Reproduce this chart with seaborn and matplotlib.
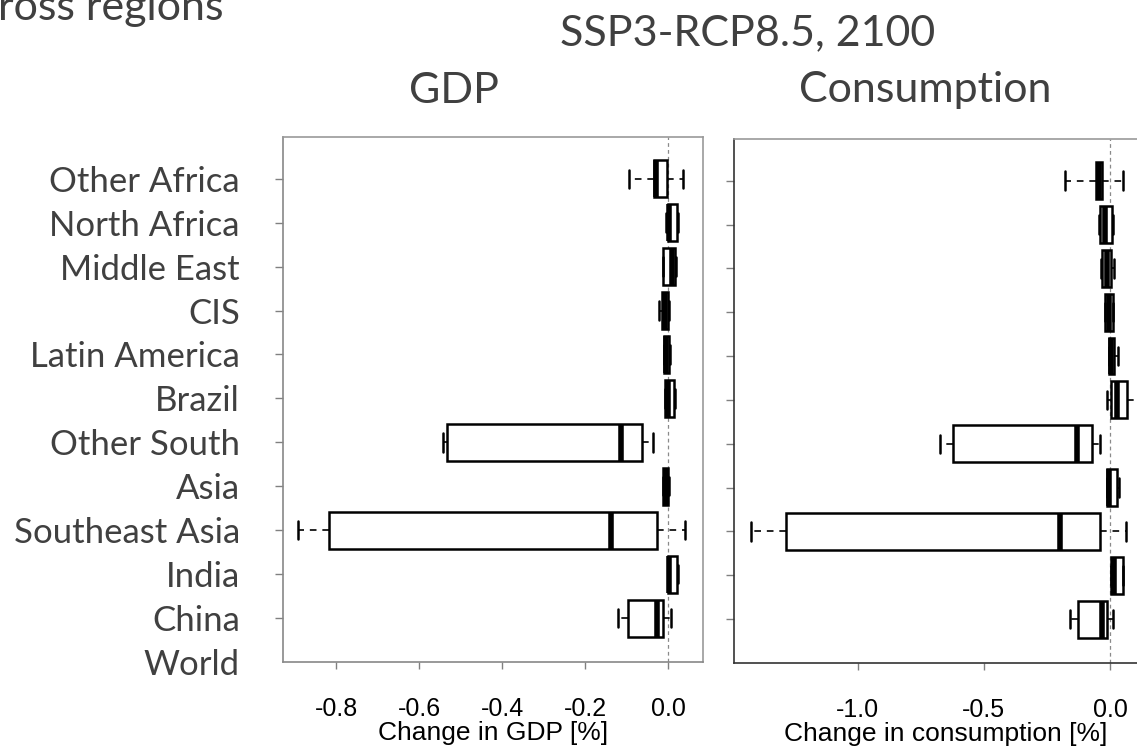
import pandas as pd
import matplotlib.pyplot as plt
import seaborn as sns

regions = ["Other Africa", "North Africa", "Middle East", "CIS", "Latin America",
           "Brazil", "Other South", "Asia", "Southeast Asia", "India", "China", "World"]

# five-number summaries (World has no box)
gdp_lo  = [-0.094, -0.004, -0.013, -0.022, -0.010, -0.008, -0.542, -0.013, -0.892, 0.000, -0.121]
gdp_q1  = [-0.034,  0.000, -0.012, -0.014, -0.009, -0.007, -0.532, -0.012, -0.817, 0.000, -0.097]
gdp_med = [-0.030,  0.003,  0.010, -0.008, -0.004,  0.000, -0.113, -0.005, -0.137, 0.002, -0.026]
gdp_q3  = [-0.002,  0.022,  0.017,  0.000,  0.003,  0.015, -0.063,  0.000, -0.026, 0.022, -0.012]
gdp_hi  = [ 0.036,  0.024,  0.018,  0.001,  0.004,  0.016, -0.036,  0.001,  0.041, 0.023,  0.007]

cons_lo  = [-0.178, -0.042, -0.034, -0.022, -0.005, -0.012, -0.672, -0.013, -1.423, 0.003, -0.158]
cons_q1  = [-0.055, -0.040, -0.032, -0.020, -0.004,  0.004, -0.621, -0.012, -1.285, 0.004, -0.126]
cons_med = [-0.045, -0.020, -0.012, -0.004,  0.005,  0.028, -0.130, -0.004, -0.198, 0.015, -0.032]
cons_q3  = [-0.032,  0.008,  0.004,  0.012,  0.016,  0.067, -0.071,  0.028, -0.040, 0.051, -0.012]
cons_hi  = [ 0.051,  0.010,  0.016,  0.013,  0.032,  0.110, -0.040,  0.035,  0.063, 0.052,  0.012]

gdp_ticks = [-0.8, -0.6, -0.4, -0.2, 0.0]
cons_ticks = [-1.0, -0.5, 0.0]

W, H = 1137, 747
TXT = "#404040"
SLIDE_FONT = ["Lato", "DejaVu Sans"]
AXIS_FONT = ["Liberation Sans", "DejaVu Sans"]


def to_long(lo, q1, med, q3, hi):
    # 5 points per region -> quartiles/whiskers land exactly on the read values
    rows = []
    for i, r in enumerate(regions[:len(lo)]):
        for v in (lo[i], q1[i], med[i], q3[i], hi[i]):
            rows.append({"region": r, "value": v})
    return pd.DataFrame(rows)


def draw_panel(ax, df, xlim, xticks, xlabel, left_labels, spine_col):
    sns.boxplot(data=df, x="value", y="region", order=regions, orient="h",
                whis=(0, 100), width=0.84, color="white", linecolor="black",
                linewidth=1.8, ax=ax,
                medianprops={"linewidth": 4.0},
                whiskerprops={"linestyle": (0, (4, 3.5)), "linewidth": 1.2},
                capprops={"linewidth": 1.8})
    ax.axvline(0, color="#8a8a8a", lw=0.9, ls=(0, (3, 2.5)), zorder=0.5)
    ax.set_xlim(*xlim)
    ax.set_ylim(11.0, -0.95)
    ax.set_xticks(xticks)
    ax.set_xticklabels([f"{t:.1f}" for t in xticks])
    ax.set_ylabel("")
    ax.set_xlabel(xlabel, fontsize=19, family=AXIS_FONT, color="black", labelpad=0)
    ax.tick_params(axis="x", length=5, width=1, color="#808080", pad=20,
                   labelsize=18, labelcolor="black", labelfontfamily=AXIS_FONT)
    ax.tick_params(axis="y", length=6, width=1, color="#808080", pad=25,
                   labelsize=25, labelcolor=TXT, labelleft=left_labels,
                   labelfontfamily=SLIDE_FONT)
    ax.yaxis.get_major_ticks()[-1].tick1line.set_visible(False)
    for side, sp in ax.spines.items():
        sp.set_visible(True)
        sp.set_linewidth(1.2)
        sp.set_color("#999999" if side in ("top", "right") else spine_col)


sns.set_style("ticks")
plt.rcParams["font.family"] = SLIDE_FONT

fig = plt.figure(figsize=(W / 100, H / 100), dpi=100)
ax1 = fig.add_axes([283 / W, 1 - 662 / H, 420 / W, 525 / H])
ax2 = fig.add_axes([734 / W, 1 - 663 / H, 423 / W, 524 / H])

draw_panel(ax1, to_long(gdp_lo, gdp_q1, gdp_med, gdp_q3, gdp_hi),
           (-0.928, 0.084), gdp_ticks, "Change in GDP [%]", True, "#888888")
draw_panel(ax2, to_long(cons_lo, cons_q1, cons_med, cons_q3, cons_hi),
           (-1.49, 0.186), cons_ticks, "Change in consumption [%]", False, "#333333")

fig.text(-2 / W, 1 - 20 / H, "ross regions", fontsize=31, color=TXT, va="baseline", ha="left")
fig.text(748 / W, 1 - 45 / H, "SSP3-RCP8.5, 2100", fontsize=31, color=TXT, va="baseline", ha="center")
fig.text(454 / W, 1 - 103 / H, "GDP", fontsize=31, color=TXT, va="baseline", ha="center")
fig.text(925 / W, 1 - 102 / H, "Consumption", fontsize=31, color=TXT, va="baseline", ha="center")

fig.savefig("out.png", dpi=100)
plt.close(fig)
